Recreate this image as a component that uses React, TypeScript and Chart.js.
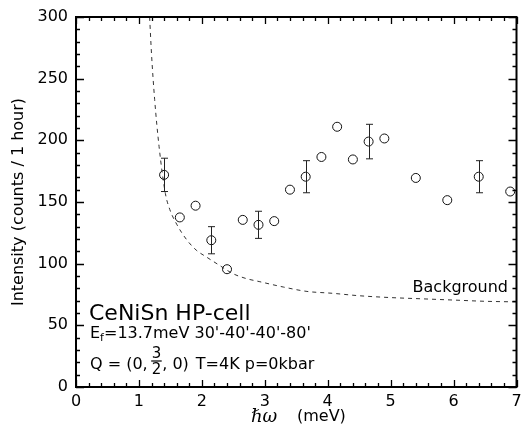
import React, { useEffect, useRef } from "react";
import { Chart, registerables } from "chart.js";

Chart.register(...registerables);

// ---- data ----
const energy = [1.4, 1.65, 1.9, 2.15, 2.4, 2.65, 2.9, 3.15, 3.4, 3.65, 3.9, 4.15, 4.4, 4.65, 4.9, 5.4, 5.9, 6.4, 6.9];
const intensity = [172, 137.5, 147, 119, 95.5, 135.5, 131.5, 134.5, 160, 170.5, 186.5, 211, 184.5, 199, 201.5, 169.5, 151.5, 170.5, 158.5];
const intensityErr = [13.5, null, null, 11, null, null, 11, null, null, 13, null, null, null, 14, null, null, null, 13, null];

const bgEnergy = [1.17, 1.2, 1.25, 1.32, 1.42, 1.49, 1.6, 1.75, 1.91, 2.07, 2.3, 2.49, 2.7, 2.91, 3.3, 3.67, 4.07, 4.5, 5.0, 5.5, 6.0, 6.5, 7.0];
const bgIntensity = [300, 270, 233, 195, 157, 144, 132, 120, 111, 105.5, 98, 92, 88, 85.5, 81, 77.5, 76, 74, 72.5, 71.5, 70.5, 69.5, 69];

const xTicks = [0, 1, 2, 3, 4, 5, 6, 7];
const yTicks = [0, 50, 100, 150, 200, 250, 300];
const xMinorStep = 0.2;
const yMinorStep = 10;

const yTitle = "Intensity (counts / 1 hour)";
const xTitleSymbol = "ℏω";
const xTitleUnit = "(meV)";
const bgLabel = "Background";
const sampleLabel = "CeNiSn HP-cell";
const efMain = "E";
const efSub = "f";
const efRest = "=13.7meV 30'-40'-40'-80'";
const qPrefix = "Q = (0,";
const qNum = "3";
const qDen = "2";
const qSuffix = ", 0)";
const qRest = "T=4K p=0kbar";

const SANS = "'DejaVu Sans', sans-serif";

const decorPlugin = {
  id: "decor",
  afterDatasetsDraw(chart: any) {
    const ctx = chart.ctx as CanvasRenderingContext2D;
    const xs = chart.scales.x;
    const ys = chart.scales.y;
    ctx.save();
    ctx.strokeStyle = "#222";
    ctx.lineWidth = 1;
    energy.forEach((e, i) => {
      const err = intensityErr[i];
      if (err == null) return;
      const px = Math.round(xs.getPixelForValue(e)) + 0.5;
      const pTop = ys.getPixelForValue(intensity[i] + err);
      const pBot = ys.getPixelForValue(intensity[i] - err);
      ctx.beginPath();
      ctx.moveTo(px, pTop);
      ctx.lineTo(px, pBot);
      ctx.moveTo(px - 3.5, pTop);
      ctx.lineTo(px + 3.5, pTop);
      ctx.moveTo(px - 3.5, pBot);
      ctx.lineTo(px + 3.5, pBot);
      ctx.stroke();
    });
    ctx.restore();
  },
  afterDraw(chart: any) {
    const ctx = chart.ctx as CanvasRenderingContext2D;
    const xs = chart.scales.x;
    const ys = chart.scales.y;
    const { left, right, top, bottom } = chart.chartArea;
    ctx.save();
    ctx.strokeStyle = "#000";
    // frame
    ctx.lineWidth = 2;
    ctx.strokeRect(left, top, right - left, bottom - top);
    // ticks
    ctx.lineWidth = 1.3;
    ctx.beginPath();
    const xMin = xTicks[0];
    const xMax = xTicks[xTicks.length - 1];
    const nx = Math.round((xMax - xMin) / xMinorStep);
    for (let i = 0; i <= nx; i++) {
      const v = xMin + i * xMinorStep;
      const major = xTicks.some((t) => Math.abs(t - v) < 1e-6);
      const len = major ? 7 : 4;
      const px = Math.round(xs.getPixelForValue(v)) + 0.5;
      ctx.moveTo(px, bottom);
      ctx.lineTo(px, bottom - len);
      ctx.moveTo(px, top);
      ctx.lineTo(px, top + len);
    }
    const yMin = yTicks[0];
    const yMax = yTicks[yTicks.length - 1];
    const ny = Math.round((yMax - yMin) / yMinorStep);
    for (let i = 0; i <= ny; i++) {
      const v = yMin + i * yMinorStep;
      const major = yTicks.some((t) => Math.abs(t - v) < 1e-6);
      const len = major ? 8 : 4;
      const py = Math.round(ys.getPixelForValue(v)) + 0.5;
      ctx.moveTo(left, py);
      ctx.lineTo(left + len, py);
      ctx.moveTo(right, py);
      ctx.lineTo(right - len, py);
    }
    ctx.stroke();

    // texts
    ctx.fillStyle = "#000";
    ctx.textBaseline = "alphabetic";

    ctx.font = `16px ${SANS}`;
    ctx.textAlign = "right";
    ctx.fillText(bgLabel, 508, 292);

    ctx.textAlign = "left";
    ctx.font = `22px ${SANS}`;
    ctx.fillText(sampleLabel, 89, 320);

    let cx = 90;
    ctx.font = `16px ${SANS}`;
    ctx.fillText(efMain, cx, 337.5);
    cx += ctx.measureText(efMain).width;
    ctx.font = `11px ${SANS}`;
    ctx.fillText(efSub, cx, 340.5);
    cx += ctx.measureText(efSub).width;
    ctx.font = `16px ${SANS}`;
    ctx.fillText(efRest, cx, 337.5);

    cx = 90;
    ctx.font = `16px ${SANS}`;
    ctx.fillText(qPrefix, cx, 369);
    cx += ctx.measureText(qPrefix).width + 4;
    ctx.font = `15px ${SANS}`;
    const fw = Math.max(ctx.measureText(qNum).width, ctx.measureText(qDen).width);
    ctx.textAlign = "center";
    ctx.fillText(qNum, cx + fw / 2, 358);
    ctx.fillText(qDen, cx + fw / 2, 374);
    ctx.lineWidth = 1.2;
    ctx.beginPath();
    ctx.moveTo(cx - 0.5, 361);
    ctx.lineTo(cx + fw + 0.5, 361);
    ctx.stroke();
    cx += fw + 1;
    ctx.textAlign = "left";
    ctx.font = `16px ${SANS}`;
    ctx.fillText(qSuffix, cx, 369);
    cx += ctx.measureText(qSuffix).width + 7;
    ctx.fillText(qRest, cx, 369);

    // x-axis title
    ctx.font = `italic 18px 'DejaVu Serif', serif`;
    ctx.fillText(xTitleSymbol, 251, 422);
    ctx.font = `16px ${SANS}`;
    ctx.fillText(xTitleUnit, 297, 421);
    ctx.restore();
  },
};

export default function App() {
  const ref = useRef<HTMLCanvasElement | null>(null);
  useEffect(() => {
    if (!ref.current) return;
    Chart.defaults.font.family = SANS;
    const chart = new Chart(ref.current, {
      type: "scatter",
      data: {
        datasets: [
          {
            label: "Background",
            data: bgEnergy.map((x, i) => ({ x, y: bgIntensity[i] })),
            showLine: true,
            borderColor: "#333",
            borderWidth: 1,
            borderDash: [4, 4],
            pointRadius: 0,
            cubicInterpolationMode: "monotone",
            order: 2,
          } as any,
          {
            label: "Intensity",
            data: energy.map((x, i) => ({ x, y: intensity[i] })),
            pointStyle: "circle",
            pointRadius: 4.5,
            borderColor: "#111",
            borderWidth: 1,
            backgroundColor: "rgba(0,0,0,0)",
            clip: false,
            order: 1,
          } as any,
        ],
      },
      options: {
        responsive: false,
        animation: false,
        devicePixelRatio: 1,
        layout: { padding: { left: 0, top: 17, right: 3, bottom: 0 } },
        plugins: { legend: { display: false }, tooltip: { enabled: false } },
        scales: {
          x: {
            type: "linear",
            min: xTicks[0],
            max: xTicks[xTicks.length - 1],
            grid: { display: false, drawTicks: false },
            border: { display: false },
            afterBuildTicks: (s: any) => {
              s.ticks = xTicks.map((v) => ({ value: v }));
            },
            afterFit: (s: any) => {
              s.height = 38;
              s.paddingLeft = 0;
              s.paddingRight = 0;
            },
            ticks: {
              color: "#000",
              font: { size: 16, family: SANS },
              padding: 5,
              maxRotation: 0,
              autoSkip: false,
            },
          },
          y: {
            type: "linear",
            min: yTicks[0],
            max: yTicks[yTicks.length - 1],
            grid: { display: false, drawTicks: false },
            border: { display: false },
            afterBuildTicks: (s: any) => {
              s.ticks = yTicks.map((v) => ({ value: v }));
            },
            afterFit: (s: any) => {
              s.width = 76;
              s.paddingTop = 0;
              s.paddingBottom = 0;
            },
            ticks: {
              color: "#000",
              font: { size: 16, family: SANS },
              padding: 8,
              autoSkip: false,
            },
            title: {
              display: true,
              text: yTitle,
              color: "#000",
              font: { size: 16, family: SANS },
              padding: { top: 9, bottom: 0 },
            },
          },
        },
      },
      plugins: [decorPlugin],
    });
    return () => chart.destroy();
  }, []);
  return (
    <div style={{ position: "absolute", left: 0, top: 0, width: 522, height: 425, background: "#fff" }}>
      <canvas ref={ref} width={522} height={425} style={{ width: 522, height: 425 }} />
    </div>
  );
}
